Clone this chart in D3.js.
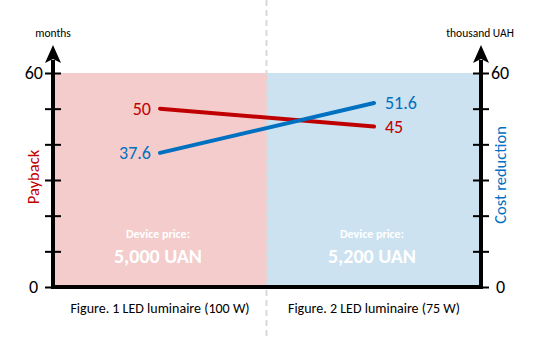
<!DOCTYPE html>
<html>
<head>
<meta charset="utf-8">
<script src="https://cdn.jsdelivr.net/npm/d3@7"></script>
<style>
  html, body { margin: 0; padding: 0; background: #fff; }
  svg { display: block; font-family: Carlito, Calibri, Lato, sans-serif; }
</style>
</head>
<body>
<svg id="chart" width="534" height="340"></svg>
<script>
const categories = ["Figure. 1 LED luminaire (100 W)", "Figure. 2 LED luminaire (75 W)"];
const payback = [50, 45];
const costReduction = [37.6, 51.6];
const priceTitles = ["Device price:", "Device price:"];
const prices = ["5,000 UAN", "5,200 UAN"];
const yTicks = [0, 10, 20, 30, 40, 50, 60];
const yLabelled = [0, 60];

(function () {
const svg = d3.select("#chart");
const pLeft = 53, pRight = 481, pTop = 73, pBottom = 287;

const x = d3.scalePoint().domain(categories).range([pLeft, pRight]).padding(0.5);
const y = d3.scaleLinear().domain([0, 60]).range([pBottom, pTop]);
const yR = d3.scaleLinear().domain([0, 60]).range([pBottom, pTop]);

const mid = (x(categories[0]) + x(categories[1])) / 2;

// background panels
const bgColors = ["#f4cccc", "#cce2f0"];
svg.selectAll("rect.bg").data(categories).join("rect")
  .attr("class", "bg")
  .attr("x", (d, i) => i === 0 ? pLeft : mid)
  .attr("y", y(60))
  .attr("width", (d, i) => i === 0 ? mid - pLeft : pRight - mid)
  .attr("height", y(0) - y(60))
  .attr("fill", (d, i) => bgColors[i]);

// dashed separator
svg.append("line")
  .attr("x1", mid - 0.5).attr("x2", mid - 0.5)
  .attr("y1", 0).attr("y2", 340)
  .attr("stroke", "#d9d9d9").attr("stroke-width", 2)
  .attr("stroke-dasharray", "6,4");

// axes
function styleAxis(g, side) {
  g.select(".domain").remove();
  g.selectAll(".tick line")
    .attr("x1", -8).attr("x2", 8)
    .attr("stroke", "#000").attr("stroke-width", 2);
  g.selectAll(".tick text")
    .attr("font-size", 18)
    .attr("fill", "#000")
    .attr("font-family", "Carlito, Calibri, Lato, sans-serif");
  g.selectAll(".tick text").filter(d => d === 0)
    .attr("dx", side === "left" ? -5 : 5);
}

const gL = svg.append("g").attr("transform", `translate(${pLeft},0)`)
  .call(d3.axisLeft(y).tickValues(yTicks).tickSize(0).tickPadding(10)
    .tickFormat(d => yLabelled.includes(d) ? d : ""));
styleAxis(gL, "left");

const gR = svg.append("g").attr("transform", `translate(${pRight},0)`)
  .call(d3.axisRight(yR).tickValues(yTicks).tickSize(0).tickPadding(10)
    .tickFormat(d => yLabelled.includes(d) ? d : ""));
styleAxis(gR, "right");

// axis lines
svg.append("line").attr("x1", pLeft).attr("x2", pLeft).attr("y1", pBottom + 2).attr("y2", 60)
  .attr("stroke", "#000").attr("stroke-width", 4);
svg.append("line").attr("x1", pRight).attr("x2", pRight).attr("y1", pBottom + 2).attr("y2", 60)
  .attr("stroke", "#000").attr("stroke-width", 4);
svg.append("line").attr("x1", pLeft - 2).attr("x2", pRight + 2).attr("y1", pBottom).attr("y2", pBottom)
  .attr("stroke", "#000").attr("stroke-width", 4);

// arrows
[pLeft, pRight].forEach(ax => {
  svg.append("path")
    .attr("d", `M${ax},45 L${ax + 8},63 L${ax},59 L${ax - 8},63 Z`)
    .attr("fill", "#000");
});

// axis unit labels
svg.append("text").attr("x", pLeft).attr("y", 37).attr("text-anchor", "middle")
  .attr("font-size", 11.5).attr("fill", "#000").text("months");
svg.append("text").attr("x", pRight - 1).attr("y", 37).attr("text-anchor", "middle")
  .attr("font-size", 11.5).attr("fill", "#000").text("thousand UAH");

// axis titles
svg.append("text")
  .attr("transform", "translate(39,177) rotate(-90)")
  .attr("text-anchor", "middle").attr("font-size", 16.5).attr("fill", "#c00000")
  .text("Payback");
svg.append("text")
  .attr("transform", "translate(506,175) rotate(-90)")
  .attr("text-anchor", "middle").attr("font-size", 16.5).attr("fill", "#0070c0")
  .text("Cost reduction");

// price annotations
svg.selectAll("text.ptitle").data(categories).join("text")
  .attr("class", "ptitle")
  .attr("x", d => x(d) - 2).attr("y", 238)
  .attr("text-anchor", "middle").attr("font-size", 12).attr("font-weight", "bold")
  .attr("fill", "#fff").text((d, i) => priceTitles[i]);
svg.selectAll("text.price").data(categories).join("text")
  .attr("class", "price")
  .attr("x", d => x(d) - 2).attr("y", 263)
  .attr("text-anchor", "middle").attr("font-size", 20).attr("font-weight", "bold")
  .attr("fill", "#fff").text((d, i) => prices[i]);

// category labels
svg.selectAll("text.cat").data(categories).join("text")
  .attr("class", "cat")
  .attr("x", d => x(d)).attr("y", 313)
  .attr("text-anchor", "middle").attr("font-size", 14).attr("fill", "#000")
  .text(d => d);

// lines
const line = d3.line().x(d => x(d[0])).y(d => y(d[1]));
const series = [
  { values: payback, color: "#c00000" },
  { values: costReduction, color: "#0070c0" }
];
series.forEach(s => {
  const pts = categories.map((c, i) => [c, s.values[i]]);
  svg.append("path").datum(pts)
    .attr("d", line)
    .attr("fill", "none").attr("stroke", s.color)
    .attr("stroke-width", 4).attr("stroke-linecap", "round");
  svg.append("g").selectAll("text").data(pts).join("text")
    .attr("x", (d, i) => i === 0 ? x(d[0]) - 9 : x(d[0]) + 11)
    .attr("y", d => y(d[1]))
    .attr("dy", "0.35em")
    .attr("text-anchor", (d, i) => i === 0 ? "end" : "start")
    .attr("font-size", 18).attr("fill", s.color)
    .text(d => d[1]);
});
})();
</script>
</body>
</html>
